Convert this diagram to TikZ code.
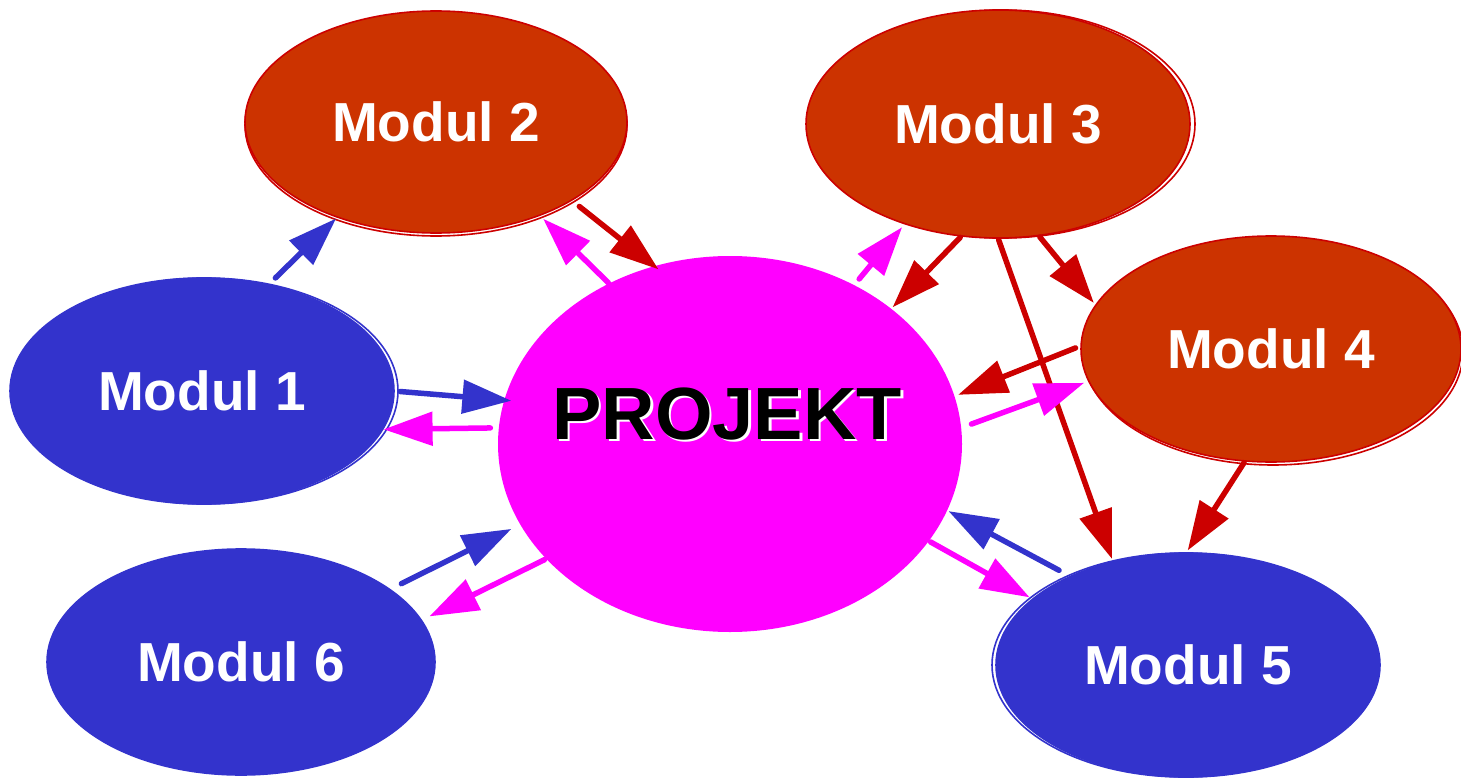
\documentclass[tikz,border=0pt]{standalone}
\usepackage{fontspec}
\setmainfont{Liberation Sans}
\usetikzlibrary{shapes.geometric,arrows.meta}
\definecolor{modred}{RGB}{204,51,0}
\definecolor{linered}{RGB}{204,0,0}
\definecolor{modblue}{RGB}{51,51,204}
\definecolor{modmag}{RGB}{255,0,255}
\tikzset{
  modbox/.style={ellipse,inner sep=0pt,outer sep=0pt,line width=1.6pt,
    text=white,font=\fontsize{55}{60}\selectfont\bfseries},
  redmod/.style={modbox,fill=modred,draw=linered},
  bluemod/.style={modbox,fill=modblue,draw=modblue},
  shadowline/.style={ellipse,inner sep=0pt,outer sep=0pt,line width=1.6pt},
  conn/.style={line width=5.5pt,line cap=round,-{Triangle[length=49pt,width=33pt]}},
  bluearr/.style={conn,draw=modblue},
  redarr/.style={conn,draw=linered},
  magarr/.style={conn,draw=modmag},
}
\begin{document}
\begin{tikzpicture}[x=1pt,y=-1pt]
\useasboundingbox (0,0) rectangle (1461,778);
% shadow outlines
\node[shadowline,draw=linered,minimum width=382pt,minimum height=222pt] (s2) at (436,125) {};
\node[shadowline,draw=linered,minimum width=384pt,minimum height=228pt] (s3) at (1003,124) {};
\node[shadowline,draw=linered,minimum width=380pt,minimum height=226pt] (s4) at (1273,352) {};
\node[shadowline,draw=modblue,minimum width=384pt,minimum height=226pt] (s1) at (206,391) {};
\node[shadowline,draw=modblue,minimum width=384pt,minimum height=224pt] (s5) at (1184,665) {};
% modules
\node[redmod,minimum width=382pt,minimum height=222pt] (m2) at (436,122) {Modul 2};
\node[redmod,minimum width=384pt,minimum height=228pt] (m3) at (998,124) {Modul 3};
\node[redmod,minimum width=380pt,minimum height=226pt] (m4) at (1271,349) {Modul 4};
\node[bluemod,minimum width=384pt,minimum height=226pt] (m1) at (202,391) {Modul 1};
\node[bluemod,minimum width=388pt,minimum height=226pt] (m6) at (241,662) {Modul 6};
\node[bluemod,minimum width=384pt,minimum height=224pt] (m5) at (1188,665) {Modul 5};
% project
\node[ellipse,fill=modmag,inner sep=0pt,outer sep=0pt,minimum width=464pt,minimum height=376pt] (p) at (730,444) {};
\node[text=white,font=\fontsize{74}{80}\selectfont\bfseries] (pts) at (729.5,416.5) {PROJEKT};
\node[text=black,font=\fontsize{74}{80}\selectfont\bfseries] (pt) at (727,414) {PROJEKT};
% connectors
\draw[bluearr,shorten <=10pt,shorten >=2pt] (m1.58) -- (m2.224);
\draw[redarr,shorten <=10pt,shorten >=-5pt] (m2.-30.5) -- (p.113.6);
\draw[magarr,shorten <=1pt,shorten >=5pt] (p.127.5) -- (m2.-42.2);
\draw[magarr,shorten <=8pt,shorten >=4.5pt] (p.52.2) -- (m3.227);
\draw[redarr,shorten <=2pt,shorten >=2pt] (m3.252) -- (p.40.6);
\draw[redarr,shorten <=2pt,shorten >=3pt] (m3.290.4) -- (m4.166.7);
\draw[redarr,shorten <=2pt,shorten >=3pt] (m3.270.5) -- (m5.126.6);
\draw[redarr,shorten <=6pt,shorten >=4pt] (m4.179.4) -- (p.12.4);
\draw[magarr,shorten <=11pt,shorten >=5pt] (p.4.8) -- (m4.190.2);
\draw[redarr,shorten <=2pt,shorten >=3pt] (m4.257.8) -- (m5.91);
\draw[bluearr,shorten <=13pt,shorten >=1.6pt] (m5.143) -- (p.-17.3);
\draw[magarr,shorten <=2pt,shorten >=3.6pt] (p.-26.6) -- (m5.157.1);
\draw[bluearr,shorten <=6pt,shorten >=-7pt] (m1.-0.6) -- (p.169);
\draw[magarr,shorten <=8.5pt,shorten >=1pt] (p.176.9) -- (m1.-12.2);
\draw[bluearr,shorten <=13pt,shorten >=10pt] (m6.26.7) -- (p.201.8);
\draw[magarr,shorten <=2pt,shorten >=9pt] (p.212.4) -- (m6.13.1);
\end{tikzpicture}
\end{document}
